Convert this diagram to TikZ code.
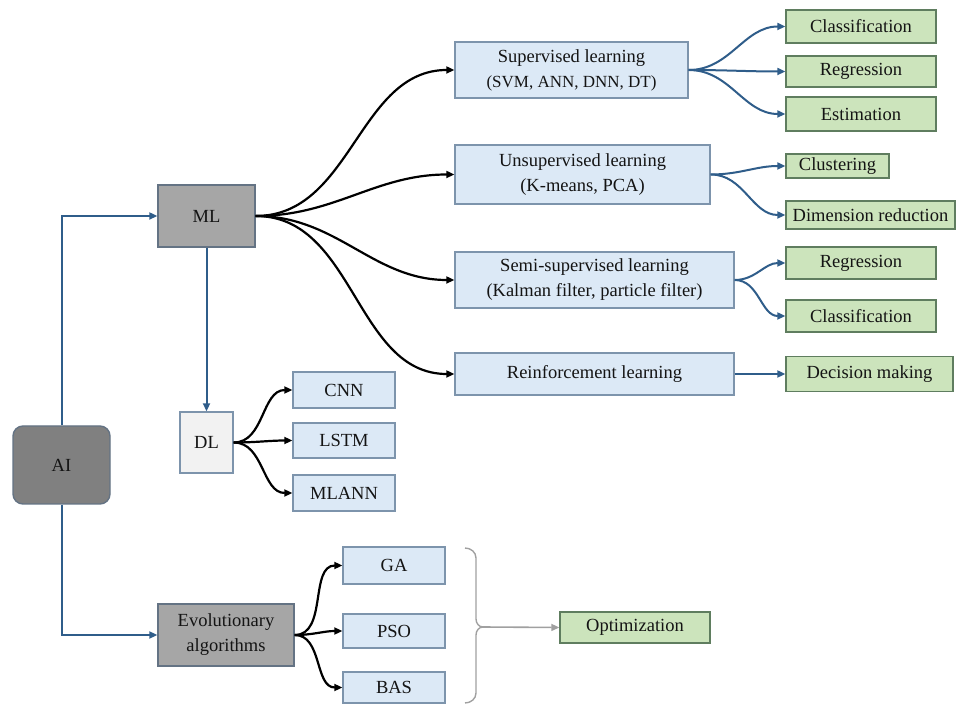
\documentclass[tikz,border=0pt]{standalone}
\usepackage{fontspec}
\setmainfont{Liberation Serif}
\usetikzlibrary{arrows.meta}

\definecolor{lineblue}{RGB}{47,93,138}
\definecolor{boxblue}{RGB}{220,233,246}
\definecolor{edgeblue}{RGB}{125,148,172}
\definecolor{boxgreen}{RGB}{204,228,188}
\definecolor{edgegreen}{RGB}{95,125,95}
\definecolor{midgray}{RGB}{166,166,166}
\definecolor{darkgray}{RGB}{128,128,128}
\definecolor{lightgray}{RGB}{242,242,242}
\definecolor{slate}{RGB}{100,115,132}
\definecolor{bracketgray}{RGB}{160,160,160}
\definecolor{ink}{RGB}{20,20,20}

\begin{document}
\begin{tikzpicture}[x=0.5pt,y=-0.5pt,
  font=\fontsize{9.25}{12.5}\selectfont,
  box/.style={draw=edgeblue,fill=boxblue,line width=0.7pt,inner sep=0pt,align=center,text=ink},
  leaf/.style={draw=edgegreen,fill=boxgreen,line width=0.7pt,inner sep=0pt,text=ink},
  grey/.style={draw=slate,fill=midgray,line width=0.7pt,inner sep=0pt,align=center,text=ink},
  blk/.style={->,line width=1.1pt,black},
  blu/.style={->,line width=1pt,lineblue},
  >={Triangle[length=4pt,width=3.5pt]}]
\useasboundingbox (0,0) rectangle (957,704);
% left column
\node[grey,fill=darkgray,rounded corners=5pt,minimum width=48.5pt,minimum height=39pt] (ai) at (61.5,465) {AI};
\node[grey,minimum width=48.5pt,minimum height=31pt] (ml) at (206.5,216) {ML};
\node[grey,fill=lightgray,draw=edgeblue,minimum width=26.5pt,minimum height=30.5pt] (dl) at (206.5,442.5) {DL};
\node[grey,minimum width=68pt,minimum height=31pt] (evo) at (226,635) {Evolutionary\\algorithms};
% deep learning
\node[box,minimum width=51pt,minimum height=18pt] (cnn) at (344,390) {CNN};
\node[box,minimum width=51pt,minimum height=17.5pt] (lstm) at (344,440.5) {LSTM};
\node[box,minimum width=51pt,minimum height=18pt] (mlann) at (344,493) {MLANN};
% learning types
\node[box,minimum width=116.5pt,minimum height=28pt] (sup) at (571.5,70) {Supervised learning\\{\fontsize{8.5}{10}\selectfont (SVM, ANN, DNN, DT)}};
\node[box,minimum width=127.5pt,minimum height=29.5pt] (unsup) at (582.5,174.5) {Unsupervised learning\\(K-means, PCA)};
\node[box,minimum width=139.5pt,minimum height=28pt] (semi) at (594.5,280) {Semi-supervised learning\\(Kalman filter, particle filter)};
\node[box,minimum width=139.5pt,minimum height=21pt] (reinf) at (594.5,374) {Reinforcement learning};
% tasks
\node[leaf,minimum width=75pt,minimum height=16.5pt] (cls1) at (861,26.5) {Classification};
\node[leaf,minimum width=75pt,minimum height=15.5pt] (reg1) at (861,71.5) {Regression};
\node[leaf,minimum width=75pt,minimum height=17pt] (est) at (861,114) {Estimation};
\node[leaf,minimum width=51.5pt,minimum height=12pt] (clu) at (837.5,166) {Clustering};
\node[leaf,minimum width=84.5pt,minimum height=14pt] (dim) at (870.5,215) {Dimension reduction};
\node[leaf,minimum width=75pt,minimum height=16pt] (reg2) at (861,263) {Regression};
\node[leaf,minimum width=75pt,minimum height=16pt] (cls2) at (861,316) {Classification};
\node[leaf,minimum width=83.5pt,minimum height=17.5pt] (dec) at (869.5,374) {Decision making};
% evolutionary
\node[box,minimum width=51pt,minimum height=18.5pt] (ga) at (394,565.5) {GA};
\node[box,minimum width=51pt,minimum height=17pt] (pso) at (394,631) {PSO};
\node[box,minimum width=51pt,minimum height=15.5pt] (bas) at (394,687.5) {BAS};
\node[leaf,minimum width=75pt,minimum height=15.5pt] (opt) at (635,627.5) {Optimization};

% connectors
\draw[blu] (ai.north) |- (ml.west);
\draw[blu] (ai.south) |- (evo.west);
\draw[blu] (ml.south) -- (dl.north);
\foreach \t in {sup,unsup,semi,reinf}
  \draw[blk] (ml.east) to[out=0,in=180] (\t.west);
\foreach \t in {cnn,lstm,mlann}
  \draw[blk] (dl.east) to[out=0,in=180] (\t.west);
\foreach \t in {ga,pso,bas}
  \draw[blk] (evo.east) to[out=0,in=180] (\t.west);
\foreach \t in {cls1,reg1,est}
  \draw[blu] (sup.east) to[out=0,in=180] (\t.west);
\foreach \t in {clu,dim}
  \draw[blu] (unsup.east) to[out=0,in=180] (\t.west);
\foreach \t in {reg2,cls2}
  \draw[blu] (semi.east) to[out=0,in=180] (\t.west);
\draw[blu] (reinf.east) -- (dec.west);

% bracket
\draw[bracketgray,line width=0.7pt] (465,548) to[out=0,in=90] (476,558) -- (476,619)
  to[out=-90,in=180] (483,627) to[out=180,in=90] (476,635) -- (476,693) to[out=-90,in=0] (465,703);
\coordinate (brtip) at (483,627);
\draw[->,bracketgray,line width=0.8pt] (brtip) -- (opt.west);
\end{tikzpicture}
\end{document}
